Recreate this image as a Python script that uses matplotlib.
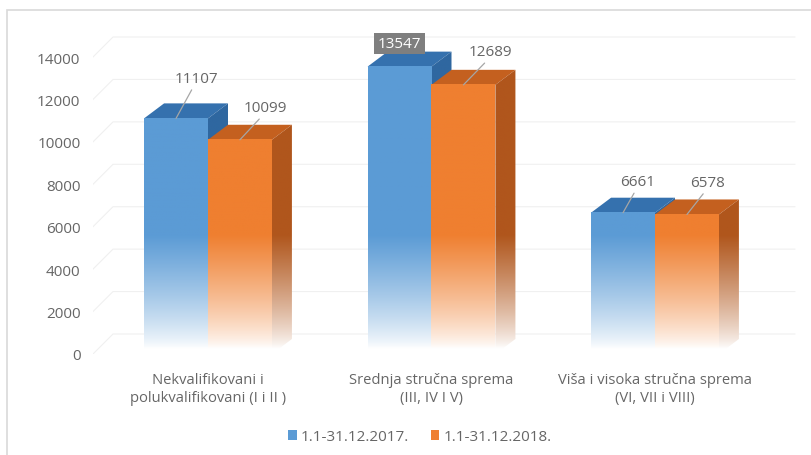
import numpy as np
import matplotlib
matplotlib.use('Agg')
import matplotlib.pyplot as plt
from matplotlib.patches import Polygon, Rectangle, Patch
from matplotlib.colors import to_rgb

categories = ['Nekvalifikovani i\npolukvalifikovani (I i II )',
              'Srednja stručna sprema\n(III, IV I V)',
              'Viša i visoka stručna sprema\n(VI, VII i VIII)']
series_names = ['1.1-31.12.2017.', '1.1-31.12.2018.']
values_2017 = [11107, 13547, 6661]
values_2018 = [10099, 12689, 6578]
yticks = [0, 2000, 4000, 6000, 8000, 10000, 12000, 14000]

# label offsets (pixels) from the top of each bar
offs_2017 = [(20, 40), (0, 23), (15, 31)]
offs_2018 = [(25, 32), (27, 33), (21, 32)]

plt.rcParams['font.family'] = ['Open Sans', 'DejaVu Sans']
TXT = '#666666'

W, H = 811, 456
fig = plt.figure(figsize=(W / 100, H / 100), dpi=100)
fig.patch.set_facecolor('white')
ax = fig.add_axes([93 / W, (H - 355) / H, (800 - 93) / W, (355 - 20) / H])

BW = 0.286      # bar width
DX = 0.0895     # depth in x
DY = 707        # depth in value units


def grad(vals, c):
    c = np.array(to_rgb(c))
    f = np.clip((vals - 250) / (5600 - 250), 0, 1) ** 0.8
    rgb = 1 - (1 - c)[None, :] * f[:, None]
    return rgb[:, None, :]


def draw_bar(x0, v, front, side, top, z):
    x1 = x0 + BW
    # top face
    ax.add_patch(Polygon([(x0, v), (x1, v), (x1 + DX, v + DY), (x0 + DX, v + DY)],
                         closed=True, facecolor=top, edgecolor='none', zorder=z))
    # side face
    poly = Polygon([(x1, 0), (x1 + DX, DY), (x1 + DX, v + DY), (x1, v)],
                   closed=True, facecolor='none', edgecolor='none', zorder=z)
    ax.add_patch(poly)
    ys = np.linspace(0, v + DY, 300)
    im = ax.imshow(grad(ys, side), extent=[x1, x1 + DX, 0, v + DY],
                   origin='lower', aspect='auto', zorder=z, interpolation='bilinear')
    im.set_clip_path(poly)
    # front face
    ys = np.linspace(0, v, 300)
    ax.imshow(grad(ys, front), extent=[x0, x1, 0, v], origin='lower',
              aspect='auto', zorder=z + 0.1, interpolation='bilinear')


xs = np.arange(len(categories))
XL, XR = -0.5145, 2.6488

# back wall gridlines
for t in yticks:
    ax.plot([XL, XL + 0.0895, 2.626], [t, t + 943, t + 943],
            color='#F0F0F0', lw=0.8, zorder=0.5)

for i, x in enumerate(xs):
    draw_bar(x - BW, values_2017[i], '#5B9BD5', '#2F67A0', '#3571AE', 2 + 2 * i)
    draw_bar(x, values_2018[i], '#EF7F30', '#B0561C', '#C4601F', 3 + 2 * i)

LBL = 11
for i, x in enumerate(xs):
    v = values_2017[i]
    if i == 1:
        ax.annotate(f'{v}', xy=(x - BW / 2, v), xytext=offs_2017[i],
                    textcoords='offset pixels', ha='center', va='center',
                    fontsize=LBL, color='white', zorder=20,
                    bbox=dict(boxstyle='square,pad=0.22', fc='#7F7F7F', ec='none'))
    else:
        ax.annotate(f'{v}', xy=(x - BW / 2, v), xytext=offs_2017[i],
                    textcoords='offset pixels', ha='center', va='center',
                    fontsize=LBL, color=TXT, zorder=20,
                    arrowprops=dict(arrowstyle='-', color='#A6A6A6', lw=0.9,
                                    relpos=(0.45, 0), shrinkA=1, shrinkB=0))
    v = values_2018[i]
    ax.annotate(f'{v}', xy=(x + BW / 2, v), xytext=offs_2018[i],
                textcoords='offset pixels', ha='center', va='center',
                fontsize=LBL, color=TXT, zorder=20,
                arrowprops=dict(arrowstyle='-', color='#A6A6A6', lw=0.9,
                                relpos=(0.45, 0), shrinkA=1, shrinkB=0))

ax.set_xlim(XL, XR)
ax.set_ylim(0, 15792)
ax.set_yticks(yticks)
ax.set_yticklabels([str(t) for t in yticks])
ax.set_xticks(xs)
ax.set_xticklabels(categories, linespacing=1.25)
ax.tick_params(axis='y', length=0, pad=9, labelsize=11, labelcolor=TXT)
ax.tick_params(axis='x', length=0, pad=13, labelsize=10.6, labelcolor=TXT)
for s in ax.spines.values():
    s.set_visible(False)
ax.set_facecolor('none')

handles = [Patch(facecolor='#5B9BD5', edgecolor='none'),
           Patch(facecolor='#EF7F30', edgecolor='none')]
fig.legend(handles, series_names, loc='center', bbox_to_anchor=(420 / W, 1 - 438 / H),
           ncol=2, frameon=False, fontsize=11, handlelength=0.55, handleheight=0.55,
           handletextpad=0.3, columnspacing=1.4, labelcolor=TXT)

# outer chart border
fig.add_artist(Rectangle((7 / W, -0.1), 1.2, 1 - 11 / H + 0.1, transform=fig.transFigure,
                         facecolor='none', edgecolor='#D9D9D9', lw=1.2))

fig.savefig('out.png', dpi=100, facecolor='white')
